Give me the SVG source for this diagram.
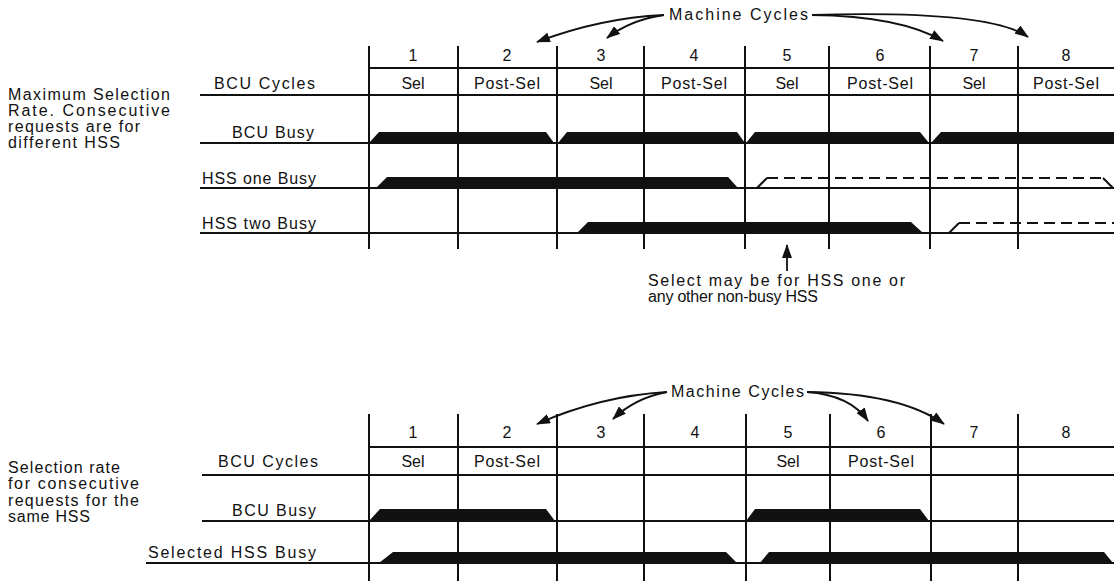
<svg xmlns="http://www.w3.org/2000/svg" width="1114" height="581" viewBox="0 0 1114 581">
  <style>
    text { font-family: "Liberation Sans", Arial, sans-serif; font-size: 16px; fill: #111; }
    .mid { text-anchor: middle; }
    .grid { stroke: #111; stroke-width: 2; fill: none; }
    .bar { fill: #111; stroke: none; }
    .dash { stroke: #111; stroke-width: 2; fill: none; stroke-dasharray: 11 6; }
    .conn { stroke: #111; stroke-width: 1.8; fill: none; marker-end: url(#head); }
  </style>
  <defs>
    <marker id="head" markerUnits="userSpaceOnUse" markerWidth="14" markerHeight="10" refX="13" refY="5" orient="auto">
      <path d="M0,0 L14,5 L0,10 Z" fill="#111"/>
    </marker>
  </defs>
  <rect width="1114" height="581" fill="#fff"/>

  <!-- Upper chart: maximum selection rate -->
  <g id="upper-caption">
    <text x="8" y="100" textLength="162" lengthAdjust="spacing">Maximum Selection</text>
    <text x="8" y="116" textLength="162" lengthAdjust="spacing">Rate.  Consecutive</text>
    <text x="8" y="132" textLength="132" lengthAdjust="spacing">requests are for</text>
    <text x="8" y="148" textLength="112" lengthAdjust="spacing">different HSS</text>
  </g>

  <g id="upper-grid">
    <path class="grid" d="M369 46V249 M458 46V249 M557 46V249 M644 46V249 M745 46V249 M829 46V249 M930 46V249 M1018 46V249"/>
    <path class="grid" d="M369 68H1114 M200 95H1114 M200 143H1114 M200 188H1114 M200 233H1114"/>
  </g>

  <g id="upper-numbers">
    <text class="mid" x="413" y="61">1</text>
    <text class="mid" x="507" y="61">2</text>
    <text class="mid" x="601" y="61">3</text>
    <text class="mid" x="694" y="61">4</text>
    <text class="mid" x="787" y="61">5</text>
    <text class="mid" x="880" y="61">6</text>
    <text class="mid" x="974" y="61">7</text>
    <text class="mid" x="1066" y="61">8</text>
  </g>

  <g id="upper-bcu-cycles">
    <text x="214" y="89" textLength="101" lengthAdjust="spacing">BCU Cycles</text>
    <text class="mid" x="413" y="89">Sel</text>
    <text class="mid" x="507" y="89" textLength="66" lengthAdjust="spacing">Post-Sel</text>
    <text class="mid" x="601" y="89">Sel</text>
    <text class="mid" x="694" y="89" textLength="66" lengthAdjust="spacing">Post-Sel</text>
    <text class="mid" x="787" y="89">Sel</text>
    <text class="mid" x="880" y="89" textLength="66" lengthAdjust="spacing">Post-Sel</text>
    <text class="mid" x="974" y="89">Sel</text>
    <text class="mid" x="1066" y="89" textLength="66" lengthAdjust="spacing">Post-Sel</text>
  </g>

  <g id="upper-bcu-busy">
    <text x="232" y="138" textLength="82" lengthAdjust="spacing">BCU  Busy</text>
    <path class="bar" d="M369 143L379 132H546L554 143Z"/>
    <path class="bar" d="M558 143L567 132H737L745 143Z"/>
    <path class="bar" d="M746 143L755 132H920L929 143Z"/>
    <path class="bar" d="M931 143L941 132H1114V143Z"/>
  </g>

  <g id="upper-hss-one">
    <text x="202" y="184" textLength="114" lengthAdjust="spacing">HSS  one  Busy</text>
    <path class="bar" d="M376 188L387 177H728L738 188Z"/>
    <path class="grid" d="M757 188L767 178"/>
    <path class="dash" d="M767 178H1103"/>
    <path class="grid" d="M1103 178L1113 188"/>
  </g>

  <g id="upper-hss-two">
    <text x="202" y="229" textLength="114" lengthAdjust="spacing">HSS  two  Busy</text>
    <path class="bar" d="M577 233L588 222H911L923 233Z"/>
    <path class="grid" d="M949 233L959 223"/>
    <path class="dash" d="M959 223H1114"/>
  </g>

  <g id="upper-note">
    <text x="648" y="286" textLength="257" lengthAdjust="spacing">Select may be for HSS one  or</text>
    <text x="648" y="302" textLength="170" lengthAdjust="spacing">any other non-busy HSS</text>
  </g>

  <g id="upper-machine-cycles">
    <text x="669" y="20" textLength="139" lengthAdjust="spacing">Machine  Cycles</text>
  </g>

  <!-- Lower chart: consecutive requests to the same HSS -->
  <g id="lower-caption">
    <text x="8" y="473" textLength="112" lengthAdjust="spacing">Selection rate</text>
    <text x="8" y="489" textLength="131" lengthAdjust="spacing">for consecutive</text>
    <text x="8" y="506" textLength="131" lengthAdjust="spacing">requests for the</text>
    <text x="8" y="522" textLength="82" lengthAdjust="spacing">same HSS</text>
  </g>

  <g id="lower-grid">
    <path class="grid" d="M369 414V581 M458 414V581 M557 414V581 M644 414V581 M746 414V581 M830 414V581 M931 414V581 M1018 414V581"/>
    <path class="grid" d="M369 447H1114 M202 475H1114 M202 521H1114 M146 563H1114"/>
  </g>

  <g id="lower-numbers">
    <text class="mid" x="413" y="438">1</text>
    <text class="mid" x="507" y="438">2</text>
    <text class="mid" x="601" y="438">3</text>
    <text class="mid" x="695" y="438">4</text>
    <text class="mid" x="788" y="438">5</text>
    <text class="mid" x="881" y="438">6</text>
    <text class="mid" x="974" y="438">7</text>
    <text class="mid" x="1066" y="438">8</text>
  </g>

  <g id="lower-bcu-cycles">
    <text x="218" y="467" textLength="100" lengthAdjust="spacing">BCU Cycles</text>
    <text class="mid" x="413" y="467">Sel</text>
    <text class="mid" x="507" y="467" textLength="66" lengthAdjust="spacing">Post-Sel</text>
    <text class="mid" x="788" y="467">Sel</text>
    <text class="mid" x="881" y="467" textLength="66" lengthAdjust="spacing">Post-Sel</text>
  </g>

  <g id="lower-bcu-busy">
    <text x="232" y="516" textLength="84" lengthAdjust="spacing">BCU  Busy</text>
    <path class="bar" d="M369 521L380 509H546L555 521Z"/>
    <path class="bar" d="M746 521L755 509H920L929 521Z"/>
  </g>

  <g id="lower-selected-hss">
    <text x="148" y="558" textLength="168" lengthAdjust="spacing">Selected HSS  Busy</text>
    <path class="bar" d="M379 563L393 552H726L737 563Z"/>
    <path class="bar" d="M760 563L769 552H1104L1113 563Z"/>
  </g>

  <g id="lower-machine-cycles">
    <text x="671" y="397" textLength="133" lengthAdjust="spacing">Machine Cycles</text>
  </g>

  <!-- Connectors -->
  <g id="connectors">
    <path class="conn" d="M664 15Q600 18 537 42"/>
    <path class="conn" d="M664 15Q630 20 607 38"/>
    <path class="conn" d="M812 15Q900 16 943 41"/>
    <path class="conn" d="M812 15Q990 10 1028 37"/>
    <path class="conn" d="M787 271V245"/>
    <path class="conn" d="M667 392Q600 396 537 424"/>
    <path class="conn" d="M667 392Q635 398 613 419"/>
    <path class="conn" d="M807 392Q850 395 868 421"/>
    <path class="conn" d="M807 392Q900 393 944 424"/>
  </g>
</svg>
